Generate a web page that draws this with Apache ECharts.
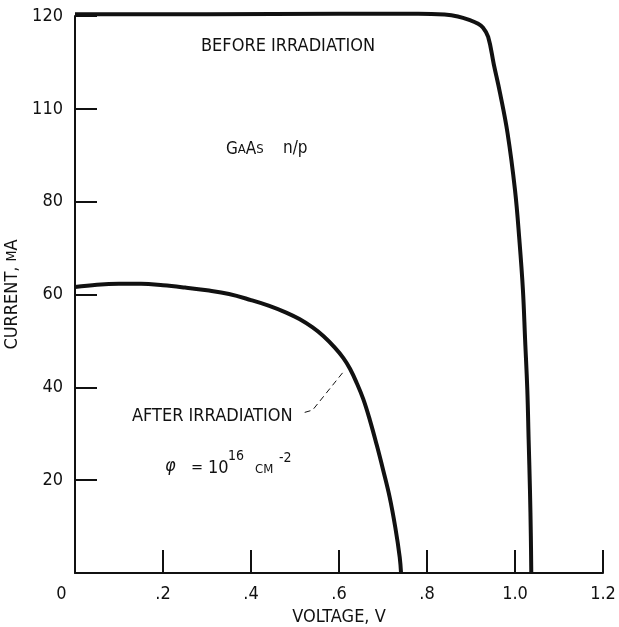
<!DOCTYPE html>
<html>
<head>
<meta charset="utf-8">
<script src="https://cdn.jsdelivr.net/npm/echarts@6/dist/echarts.min.js"></script>
<style>
  html, body { margin: 0; padding: 0; background: #fff; }
  #chart { width: 619px; height: 627px; }
</style>
</head>
<body>
<div id="chart"></div>
<script>
const FONT = "'Liberation Sans Narrow', 'DejaVu Sans Condensed', 'Liberation Sans', sans-serif"
const INK = '#111'

// tick labels (the original figure prints "110" at the 100 tick)
const xTickLabels = ['0', '.2', '.4', '.6', '.8', '1.0', '1.2']
const yTickLabels = ['', '20', '40', '60', '80', '110', '120']

// I-V curves: [voltage V, current mA]
const beforeCurve = [
  [0, 120.4], [0.3, 120.4], [0.6, 120.5], [0.78, 120.5], [0.84, 120.3],
  [0.87, 119.9], [0.898, 119.1], [0.915, 118.4], [0.927, 117.5], [0.939, 115.5],
  [0.952, 109.5], [0.966, 103.4], [0.983, 94.8], [1.0, 82.5], [1.010, 71.7],
  [1.018, 61.0], [1.023, 50.2], [1.028, 39.4], [1.031, 28.7], [1.034, 17.9],
  [1.036, 8.0], [1.037, 0]
]
const afterCurve = [
  [0, 61.6], [0.05, 62.1], [0.1, 62.3], [0.15, 62.3], [0.2, 62.0],
  [0.25, 61.5], [0.3, 60.9], [0.35, 60.1], [0.4, 58.8], [0.44, 57.6],
  [0.48, 56.1], [0.51, 54.7], [0.54, 52.9], [0.565, 51.0], [0.59, 48.6],
  [0.61, 46.3], [0.625, 44.0], [0.64, 41.0], [0.655, 37.5], [0.67, 33.0],
  [0.686, 27.5], [0.70, 22.3], [0.715, 16.4], [0.728, 9.8], [0.738, 3.4],
  [0.741, 0]
]
// dashed leader from the "AFTER IRRADIATION" label to its curve
const leaderLine = [[0.522, 34.6], [0.540, 35.1], [0.613, 43.7]]

const chart = echarts.init(document.getElementById('chart'))

const txt = (text, x, y, size, extra) => ({
  type: 'text',
  style: Object.assign({
    text: text, x: x, y: y, fill: INK,
    font: size + 'px ' + FONT,
    textVerticalAlign: 'middle'
  }, extra || {})
})

chart.setOption({
  animation: false,
  grid: { left: 75, right: 16, top: 16, bottom: 54, outerBoundsMode: 'none' },
  xAxis: {
    type: 'value',
    min: 0,
    max: 1.2,
    interval: 0.2,
    name: 'VOLTAGE, V',
    nameLocation: 'middle',
    nameGap: 31,
    nameTextStyle: { color: INK, fontSize: 18, fontFamily: FONT },
    axisLine: { lineStyle: { color: INK, width: 2 } },
    axisTick: { inside: true, length: 23, lineStyle: { color: INK, width: 2 } },
    splitLine: { show: false },
    axisLabel: {
      color: INK,
      fontSize: 18,
      fontFamily: FONT,
      margin: 12,
      formatter: function (v) {
        const i = Math.round(v / 0.2)
        return i === 0 ? '{z|' + xTickLabels[0] + '}' : xTickLabels[i]
      },
      rich: { z: { fontSize: 18, fontFamily: FONT, color: INK, padding: [0, 27, 0, 0] } }
    }
  },
  yAxis: {
    type: 'value',
    min: 0,
    max: 120,
    interval: 20,
    name: 'CURRENT, {s|M}A',
    nameLocation: 'middle',
    nameRotate: 90,
    nameGap: 50,
    nameTextStyle: {
      color: INK, fontSize: 18, fontFamily: FONT,
      rich: { s: { fontSize: 14, fontFamily: FONT, color: INK } }
    },
    axisLine: { show: true, lineStyle: { color: INK, width: 2 } },
    axisTick: { show: true, inside: true, length: 22, lineStyle: { color: INK, width: 2 } },
    splitLine: { show: false },
    axisLabel: {
      color: INK,
      fontSize: 18,
      fontFamily: FONT,
      margin: 12,
      formatter: function (v) {
        return yTickLabels[Math.round(v / 20)]
      }
    }
  },
  series: [
    {
      name: 'before',
      type: 'line',
      data: beforeCurve,
      smooth: 0.4,
      showSymbol: false,
      clip: false,
      lineStyle: { color: INK, width: 4 }
    },
    {
      name: 'after',
      type: 'line',
      data: afterCurve,
      smooth: 0.4,
      showSymbol: false,
      clip: false,
      lineStyle: { color: INK, width: 4 }
    },
    {
      name: 'leader',
      type: 'line',
      data: leaderLine,
      showSymbol: false,
      lineStyle: { color: INK, width: 1, type: [6, 4] }
    }
  ],
  graphic: [
    txt('BEFORE IRRADIATION', 201, 46, 18),
    txt('G{s|A}A{s|S}', 226, 150, 17, { rich: { s: { fontSize: 13, fontFamily: FONT, fill: INK } } }),
    txt('n/p', 283, 149, 17),
    txt('AFTER IRRADIATION', 132, 416, 18),
    txt('φ', 165, 466, 18, { font: 'italic 18px ' + FONT }),
    txt('=', 191, 468, 16),
    txt('10', 208, 468, 18),
    txt('16', 228, 456, 14),
    txt('CM', 255, 470, 13),
    txt('-2', 279, 458, 14)
  ]
})
</script>
</body>
</html>
